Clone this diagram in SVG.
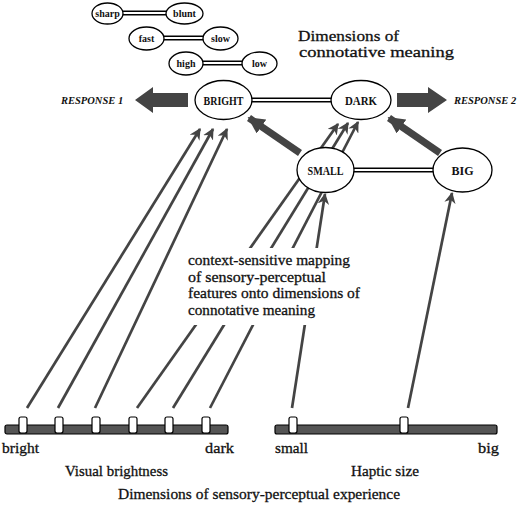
<svg xmlns="http://www.w3.org/2000/svg" width="520" height="505" viewBox="0 0 520 505">
<defs>
<style>
.t{font-family:"Liberation Serif","DejaVu Serif",serif;fill:#111}
.lbl{font-weight:bold;font-size:12px}
.sm{font-weight:bold;font-size:10px}
.txt{font-size:15.5px;stroke:#111;stroke-width:0.3}
.resp{font-weight:bold;font-style:italic;font-size:10.5px}
.node{fill:#fff;stroke:#000;stroke-width:1.3}
.dbo{stroke:#000;stroke-width:5}
.dbi{stroke:#fff;stroke-width:2}
.thin{stroke:#444;stroke-width:2.7;fill:none}
.thick{stroke:#444;stroke-width:7;fill:none}
.bar{fill:#555;stroke:#000;stroke-width:1.2}
.mk{fill:#fff;stroke:#000;stroke-width:1.2}
</style>
<marker id="ah" viewBox="0 0 10 10" refX="9" refY="5" markerWidth="4.2" markerHeight="4.2" orient="auto" markerUnits="strokeWidth">
<path d="M0,0 L10,5 L0,10 L3,5 Z" fill="#444"/>
</marker>
<marker id="ahT" viewBox="0 0 10 10" refX="9" refY="5" markerWidth="2.4" markerHeight="2.4" orient="auto" markerUnits="strokeWidth">
<path d="M0,0 L10,5 L0,10 Z" fill="#444"/>
</marker>
</defs>
<rect width="520" height="505" fill="#fff"/>

<g id="connectors">
<line class="thin" x1="27" y1="408" x2="200" y2="129" marker-end="url(#ah)"/>
<line class="thin" x1="58" y1="408" x2="213" y2="129" marker-end="url(#ah)"/>
<line class="thin" x1="95" y1="408" x2="227" y2="129" marker-end="url(#ah)"/>
<line class="thin" x1="137" y1="408" x2="338" y2="124" marker-end="url(#ah)"/>
<line class="thin" x1="173" y1="408" x2="348" y2="123" marker-end="url(#ah)"/>
<line class="thin" x1="210" y1="408" x2="358" y2="122" marker-end="url(#ah)"/>
<line class="thin" x1="292" y1="408" x2="325" y2="194" marker-end="url(#ah)"/>
<line class="thin" x1="408" y1="408" x2="452" y2="193" marker-end="url(#ah)"/>
<line class="thick" x1="300" y1="153" x2="249" y2="118" marker-end="url(#ahT)"/>
<line class="thick" x1="440" y1="153" x2="389" y2="118" marker-end="url(#ahT)"/>
<line class="dbo" x1="122" y1="13" x2="167" y2="13"/>
<line class="dbi" x1="122" y1="13" x2="167" y2="13"/>
<line class="dbo" x1="163" y1="38" x2="204" y2="38"/>
<line class="dbi" x1="163" y1="38" x2="204" y2="38"/>
<line class="dbo" x1="202" y1="63" x2="243" y2="63"/>
<line class="dbi" x1="202" y1="63" x2="243" y2="63"/>
<line class="dbo" x1="251" y1="100" x2="332" y2="100"/>
<line class="dbi" x1="251" y1="100" x2="332" y2="100"/>
<line class="dbo" x1="352" y1="170" x2="434" y2="170"/>
<line class="dbi" x1="352" y1="170" x2="434" y2="170"/>
<polygon points="135,100 153,87 153,93 188,93 188,107 153,107 153,113" fill="#444"/>
<polygon points="397,93 428,93 428,87 447,100 428,113 428,107 397,107" fill="#444"/>
</g>

<g id="sharp"><ellipse class="node" cx="107.5" cy="13.5" rx="15.5" ry="10.5"/><text class="t sm" x="107.5" y="17" text-anchor="middle">sharp</text></g>
<g id="blunt"><ellipse class="node" cx="184.5" cy="13.5" rx="18.5" ry="10.5"/><text class="t sm" x="184.5" y="17" text-anchor="middle">blunt</text></g>
<g id="fast"><ellipse class="node" cx="146.5" cy="38.5" rx="17.5" ry="11.5"/><text class="t sm" x="146.5" y="42" text-anchor="middle">fast</text></g>
<g id="slow"><ellipse class="node" cx="220.5" cy="38.5" rx="17.5" ry="11.5"/><text class="t sm" x="220.5" y="42" text-anchor="middle">slow</text></g>
<g id="high"><ellipse class="node" cx="186" cy="63.5" rx="17" ry="11.5"/><text class="t sm" x="186" y="67" text-anchor="middle">high</text></g>
<g id="low"><ellipse class="node" cx="259.5" cy="63.5" rx="17.5" ry="11.5"/><text class="t sm" x="259.5" y="67" text-anchor="middle">low</text></g>

<g id="bright"><ellipse class="node" cx="223.5" cy="100" rx="28.5" ry="19.5"/><text class="t lbl" x="223.5" y="104.5" text-anchor="middle" textLength="40" lengthAdjust="spacingAndGlyphs">BRIGHT</text></g>
<g id="dark"><ellipse class="node" cx="361" cy="100" rx="30" ry="19.5"/><text class="t lbl" x="361" y="104.5" text-anchor="middle" textLength="32" lengthAdjust="spacingAndGlyphs">DARK</text></g>
<g id="small"><ellipse class="node" cx="325.5" cy="170" rx="28.5" ry="22.5"/><text class="t lbl" x="325.5" y="174.5" text-anchor="middle" textLength="36" lengthAdjust="spacingAndGlyphs">SMALL</text></g>
<g id="big"><ellipse class="node" cx="462.5" cy="170" rx="29.5" ry="22"/><text class="t lbl" x="462.5" y="174.5" text-anchor="middle">BIG</text></g>

<g id="responses">
<text class="t resp" x="61" y="104">RESPONSE 1</text>
<text class="t resp" x="454" y="104">RESPONSE 2</text>
</g>

<g id="connotative-title">
<text class="t txt" x="298" y="41" textLength="101" lengthAdjust="spacingAndGlyphs">Dimensions of</text>
<text class="t txt" x="299" y="57" textLength="155" lengthAdjust="spacingAndGlyphs">connotative meaning</text>
</g>

<g id="mapping-label">
<rect x="185" y="248" width="180" height="77" fill="#fff"/>
<text class="t txt" x="188" y="265" textLength="162" lengthAdjust="spacingAndGlyphs">context-sensitive mapping</text>
<text class="t txt" x="188" y="281.5" textLength="138" lengthAdjust="spacingAndGlyphs">of sensory-perceptual</text>
<text class="t txt" x="188" y="298" textLength="172" lengthAdjust="spacingAndGlyphs">features onto dimensions of</text>
<text class="t txt" x="188" y="314.5" textLength="127" lengthAdjust="spacingAndGlyphs">connotative meaning</text>
</g>

<g id="visual-scale">
<rect class="bar" x="5" y="425" width="223" height="9" rx="2"/>
<rect class="mk" x="19" y="417" width="8" height="16" rx="2"/>
<rect class="mk" x="55" y="417" width="8" height="16" rx="2"/>
<rect class="mk" x="92" y="417" width="8" height="16" rx="2"/>
<rect class="mk" x="129" y="417" width="8" height="16" rx="2"/>
<rect class="mk" x="165" y="417" width="8" height="16" rx="2"/>
<rect class="mk" x="202" y="417" width="8" height="16" rx="2"/>
<text class="t txt" x="2" y="453" textLength="37" lengthAdjust="spacingAndGlyphs">bright</text>
<text class="t txt" x="205" y="453" textLength="29" lengthAdjust="spacingAndGlyphs">dark</text>
<text class="t txt" x="65" y="476" textLength="103" lengthAdjust="spacingAndGlyphs">Visual brightness</text>
</g>

<g id="haptic-scale">
<rect class="bar" x="275" y="425" width="222" height="9" rx="2"/>
<rect class="mk" x="289" y="417" width="8" height="16" rx="2"/>
<rect class="mk" x="400" y="417" width="8" height="16" rx="2"/>
<text class="t txt" x="275" y="453" textLength="33" lengthAdjust="spacingAndGlyphs">small</text>
<text class="t txt" x="478" y="453" textLength="21" lengthAdjust="spacingAndGlyphs">big</text>
<text class="t txt" x="351" y="476" textLength="68" lengthAdjust="spacingAndGlyphs">Haptic size</text>
</g>

<text class="t txt" x="118" y="499" textLength="282" lengthAdjust="spacingAndGlyphs">Dimensions of sensory-perceptual experience</text>
</svg>
